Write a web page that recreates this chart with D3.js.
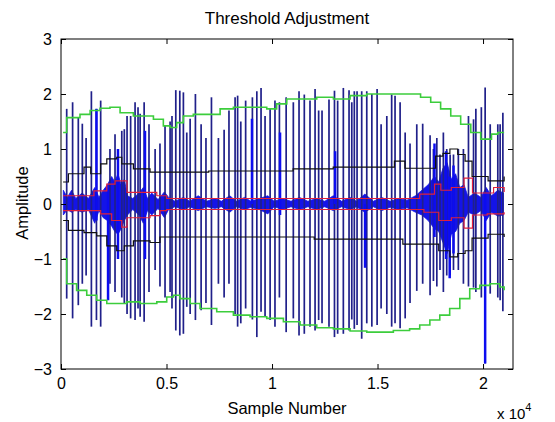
<!DOCTYPE html>
<html>
<head>
<meta charset="utf-8">
<script src="https://cdn.jsdelivr.net/npm/d3@7"></script>
<style>
  body { margin: 0; background: #fff; }
  text { font-family: "Liberation Sans", Arial, sans-serif; fill: #000; }
</style>
</head>
<body>
<script>
// spikes of the signal (sample number, top, bottom)
const spikeX = [270, 550, 820, 1010, 1190, 1440, 1680, 1880, 2320, 2560, 2880, 3000, 3130, 3300, 3510, 3650, 3750, 3940, 4170, 4460,
  4690, 4930, 5170, 5260, 5440, 5630, 5800, 5960, 6120, 6370, 6640, 6870, 7130, 7460, 7730, 7960, 8250, 8370, 8520, 8750,
  9070, 9280, 9480, 9670, 9910, 10140, 10350, 10670, 11010, 11280, 11530, 11800, 12040, 12210, 12370, 12700, 12960, 13110, 13380, 13650,
  13780, 13900, 14030, 14250, 14490, 14730, 14980, 15170, 15440, 15670, 15830, 16070, 16310, 16540, 16860, 17140, 17490, 17650, 17810, 17960,
  18120, 18280, 18440, 18600, 18830, 19070, 19310, 19550, 19660, 19920, 20100, 20340, 20700, 20810, 20940];
const spikeHi = [1.73, 1.85, 1.57, 1.46, 1.2, 2.05, 1.73, 1.88, 1.0, 1.27, 1.33, 1.36, 1.6, 1.6, 1.85, 1.76, 1.64, 1.85, 1.45, 1.0,
  1.1, 1.42, 1.5, 1.6, 2.07, 2.06, 2.03, 1.3, 1.55, 2.0, 1.45, 1.2, 1.94, 1.2, 1.35, 1.7, 1.94, 1.97, 1.5, 1.88,
  1.94, 2.05, 2.11, 1.6, 1.73, 1.88, 1.85, 1.94, 1.85, 2.05, 1.99, 1.88, 2.09, 1.7, 1.7, 1.9, 2.06, 1.88, 2.11, 2.07,
  1.85, 2.05, 2.05, 2.05, 2.05, 2.0, 2.09, 1.45, 1.6, 1.99, 1.97, 1.85, 1.3, 1.1, 1.45, 1.46, 1.25, 1.0, 1.2, 0.9,
  1.3, 1.0, 0.9, 0.9, 1.0, 1.0, 1.6, 1.54, 1.73, 1.76, 2.12, 1.45, 1.45, 1.45, 1.66];
const spikeLo = [-1.72, -2.08, -1.84, -1.45, -1.3, -2.23, -2.11, -2.23, -1.45, -1.6, -1.7, -1.8, -2.0, -2.08, -2.11, -1.9, -2.05, -2.14, -1.6, -1.2,
  -1.5, -1.7, -1.6, -1.9, -2.3, -2.39, -2.36, -1.87, -2.0, -2.11, -1.93, -1.8, -2.2, -1.45, -1.7, -1.45, -2.0, -2.23, -2.17, -1.9,
  -2.1, -2.42, -1.96, -2.05, -2.11, -2.23, -1.7, -2.33, -2.08, -2.39, -2.36, -2.23, -2.3, -2.11, -2.17, -2.23, -2.42, -2.36, -2.36, -2.3,
  -2.1, -2.27, -2.2, -2.45, -2.17, -2.23, -2.2, -1.9, -2.0, -2.23, -2.17, -2.26, -2.08, -1.8, -1.58, -1.45, -1.66, -1.4, -1.5, -1.2,
  -1.6, -1.3, -1.3, -1.2, -1.2, -1.45, -1.5, -1.52, -1.6, -1.7, -2.9, -1.63, -1.7, -1.75, -1.95];

// thick bright bursts of the signal
const burstX = [1680, 2230, 2700, 3980, 9050, 10380, 12990, 14410, 17700, 18250, 18420, 18600, 20100];
const burstHi = [1.73, 0.3, 1.0, 1.33, 1.55, 1.3, 0.96, 0, 1.1, 0.96, 0.5, 0.7, 0.2];
const burstLo = [-0.3, -1.75, -1.0, -1.0, 0, -0.2, 0, -1.16, -0.6, -1.0, -1.35, -0.9, -2.9];

// dense noise band around zero
const bandX = [110, 300, 500, 700, 1000, 1300, 1600, 1800, 2000, 2200, 2400, 2550, 2700, 2850, 3000, 3150, 3400, 3700, 3900, 4100,
  4300, 4600, 4900, 5100, 5400, 5800, 6100, 6500, 6900, 7300, 7600, 8000, 8300, 8700, 9000, 9400, 9800, 10100, 10500, 10900,
  11300, 11700, 12100, 12500, 12900, 13300, 13700, 14000, 14400, 14800, 15200, 15600, 16000, 16400, 16800, 17100, 17400, 17700, 17900, 18100,
  18300, 18500, 18700, 18900, 19100, 19300, 19600, 19900, 20150, 20400, 20700, 20970];
const bandHi = [0.25, 0.12, 0.25, 0.1, 0.2, 0.1, 0.3, 0.12, 0.25, 0.35, 0.5, 0.4, 0.55, 0.35, 0.45, 0.15, 0.1, 0.2, 0.3, 0.1,
  0.2, 0.08, 0.22, 0.12, 0.05, 0.12, 0.05, 0.15, 0.05, 0.1, 0.05, 0.15, 0.05, 0.12, 0.05, 0.1, 0.15, 0.05, 0.1, 0.05,
  0.12, 0.05, 0.1, 0.05, 0.15, 0.05, 0.12, 0.05, 0.18, 0.05, 0.12, 0.05, 0.1, 0.07, 0.15, 0.25, 0.35, 0.5, 0.4, 0.65,
  0.75, 0.45, 0.55, 0.3, 0.35, 0.12, 0.2, 0.12, 0.3, 0.15, 0.25, 0.2];
const bandLo = [-0.2, -0.1, -0.15, -0.1, -0.15, -0.1, -0.35, -0.12, -0.25, -0.3, -0.4, -0.5, -0.55, -0.45, -0.3, -0.2, -0.1, -0.2, -0.35, -0.12,
  -0.2, -0.08, -0.25, -0.1, -0.05, -0.1, -0.05, -0.12, -0.05, -0.08, -0.05, -0.15, -0.05, -0.1, -0.06, -0.1, -0.18, -0.05, -0.1, -0.05,
  -0.1, -0.05, -0.1, -0.05, -0.12, -0.05, -0.1, -0.05, -0.15, -0.05, -0.12, -0.06, -0.1, -0.07, -0.15, -0.2, -0.3, -0.45, -0.5, -0.7,
  -0.9, -0.55, -0.5, -0.35, -0.3, -0.15, -0.2, -0.12, -0.3, -0.15, -0.22, -0.2];

// black thresholds
const blackUpX = [100, 350, 1090, 1410, 1880, 2170, 2640, 2880, 3430, 4220, 5010, 7000, 9000, 11000, 12900, 15000, 15800, 16300, 17500, 17750,
  18100, 18430, 18800, 19150, 19480, 20240, 21000];
const blackUpY = [0.4, 0.55, 0.67, 0.55, 0.73, 0.82, 0.85, 0.73, 0.64, 0.58, 0.58, 0.6, 0.6, 0.64, 0.67, 0.67, 0.78, 0.65, 0.65, 0.87,
  0.92, 1.0, 0.9, 0.78, 0.5, 0.42, 0.5];
const blackLoX = [100, 350, 1090, 1690, 2170, 2640, 3000, 3430, 4220, 4690, 5010, 9000, 12000, 15500, 16200, 17000, 17900, 18430, 18800, 19150,
  19480, 20240, 21000];
const blackLoY = [-0.3, -0.48, -0.52, -0.58, -0.76, -0.85, -0.76, -0.67, -0.7, -0.6, -0.6, -0.6, -0.64, -0.64, -0.73, -0.73, -0.85, -0.96, -0.9, -0.85,
  -0.62, -0.55, -0.6];

// red thresholds
const redUpX = [100, 1090, 1560, 2170, 2560, 3130, 4060, 4540, 5010, 16500, 17000, 17700, 18000, 18500, 19100, 19500, 20000, 20500, 21000];
const redUpY = [0.15, 0.15, 0.24, 0.36, 0.42, 0.21, 0.21, 0.15, 0.1, 0.1, 0.18, 0.36, 0.25, 0.3, 0.47, 0.2, 0.2, 0.3, 0.22];
const redLoX = [100, 1090, 1880, 2400, 2880, 3130, 4220, 4690, 5010, 16500, 17200, 17900, 18500, 19100, 19500, 20200, 21000];
const redLoY = [-0.12, -0.12, -0.18, -0.3, -0.42, -0.25, -0.21, -0.12, -0.1, -0.1, -0.15, -0.3, -0.25, -0.44, -0.2, -0.18, -0.15];

// green thresholds
const greenUpX = [100, 269, 900, 1380, 1850, 2320, 2800, 3430, 4060, 4380, 4850, 5170, 5480, 5800, 6270, 7060, 7540, 8170, 9120, 9750,
  10220, 10700, 12120, 12910, 13700, 14490, 16070, 17040, 17520, 17990, 18470, 18940, 19420, 19890, 20400, 20700, 21000];
const greenUpY = [1.3, 1.57, 1.63, 1.7, 1.74, 1.76, 1.66, 1.6, 1.6, 1.54, 1.42, 1.39, 1.48, 1.6, 1.63, 1.63, 1.73, 1.76, 1.76, 1.73,
  1.82, 1.91, 1.94, 1.91, 1.97, 2.0, 2.0, 1.94, 1.85, 1.73, 1.6, 1.45, 1.3, 1.18, 1.27, 1.3, 1.3];
const greenLoX = [100, 269, 740, 1220, 1690, 2170, 2640, 3110, 3750, 4540, 5010, 5330, 5640, 6120, 6590, 7380, 8170, 8960, 9750, 10540,
  11330, 12120, 12910, 13700, 14490, 15280, 15750, 16520, 17000, 17480, 17950, 18420, 18900, 19370, 19850, 20320, 20790, 21000];
const greenLoY = [-1.0, -1.45, -1.57, -1.66, -1.75, -1.81, -1.81, -1.78, -1.81, -1.78, -1.69, -1.66, -1.72, -1.81, -1.9, -1.96, -2.02, -2.05, -2.08, -2.14,
  -2.2, -2.25, -2.27, -2.31, -2.33, -2.33, -2.3, -2.27, -2.2, -2.11, -2.02, -1.9, -1.72, -1.54, -1.48, -1.45, -1.51, -1.57];

const xTicks = [0, 5000, 10000, 15000, 20000];
const yTicks = [-3, -2, -1, 0, 1, 2, 3];

//svg size and margins
const svgWidth = 555, svgHeight = 422;
const margin = {top: 39, right: 42, bottom: 53, left: 61};
const width = svgWidth - margin.left - margin.right;
const height = svgHeight - margin.top - margin.bottom;

const svg = d3.select("body").append("svg")
  .attr("width", svgWidth)
  .attr("height", svgHeight);

const chart = svg.append("g")
  .attr("transform", `translate(${margin.left},${margin.top})`);

const x = d3.scaleLinear().domain([0, 21420]).range([0, width]);
const y = d3.scaleLinear().domain([-3, 3]).range([height, 0]);

chart.append("clipPath").attr("id", "clip")
  .append("rect").attr("width", width).attr("height", height);
const plot = chart.append("g").attr("clip-path", "url(#clip)");

//noise band
const band = bandX.map((d, i) => ({x: d, hi: bandHi[i], lo: bandLo[i]}));
plot.append("path")
  .datum(band)
  .attr("fill", "#1414e8")
  .attr("stroke", "#1414e8")
  .attr("stroke-width", 0.8)
  .attr("d", d3.area().x(d => x(d.x)).y0(d => y(d.lo)).y1(d => y(d.hi)));

//spikes
plot.append("g").selectAll("line")
  .data(spikeX.map((d, i) => ({x: d, hi: spikeHi[i], lo: spikeLo[i]})))
  .enter().append("line")
  .attr("x1", d => x(d.x)).attr("x2", d => x(d.x))
  .attr("y1", d => y(d.hi)).attr("y2", d => y(d.lo))
  .attr("stroke", "#20208a")
  .attr("stroke-width", 1.7);

//thick bursts
plot.append("g").selectAll("line")
  .data(burstX.map((d, i) => ({x: d, hi: burstHi[i], lo: burstLo[i]})))
  .enter().append("line")
  .attr("x1", d => x(d.x)).attr("x2", d => x(d.x))
  .attr("y1", d => y(d.hi)).attr("y2", d => y(d.lo))
  .attr("stroke", "#0c0cf0")
  .attr("stroke-width", 2.5);

function stepLine(xs, ys, color, w) {
  plot.append("path")
    .datum(xs.map((d, i) => [d, ys[i]]))
    .attr("fill", "none")
    .attr("stroke", color)
    .attr("stroke-width", w)
    .attr("d", d3.line().x(d => x(d[0])).y(d => y(d[1])).curve(d3.curveStepAfter));
}

stepLine(blackUpX, blackUpY, "#111", 1.2);
stepLine(blackLoX, blackLoY, "#111", 1.2);
stepLine(redUpX, redUpY, "#e0203c", 1.2);
stepLine(redLoX, redLoY, "#e0203c", 1.2);
stepLine(greenUpX, greenUpY, "#3ccd3c", 1.6);
stepLine(greenLoX, greenLoY, "#3ccd3c", 1.6);

//axes (matlab style, ticks inside, box)
chart.append("rect")
  .attr("width", width).attr("height", height)
  .attr("fill", "none").attr("stroke", "#000").attr("stroke-width", 1);

chart.append("g").attr("transform", `translate(0,${height})`)
  .call(d3.axisBottom(x).tickValues(xTicks).tickSize(-5).tickPadding(9).tickFormat(d => d / 1e4))
  .call(g => g.select(".domain").remove());
chart.append("g")
  .call(d3.axisTop(x).tickValues(xTicks).tickSize(-5).tickFormat(""))
  .call(g => g.select(".domain").remove());
chart.append("g")
  .call(d3.axisLeft(y).tickValues(yTicks).tickSize(-5).tickPadding(9).tickFormat(d3.format("d")))
  .call(g => g.select(".domain").remove());
chart.append("g").attr("transform", `translate(${width},0)`)
  .call(d3.axisRight(y).tickValues(yTicks).tickSize(-5).tickFormat(""))
  .call(g => g.select(".domain").remove());

chart.selectAll(".tick text")
  .style("font-family", "'Liberation Sans', Arial, sans-serif")
  .style("font-size", "16px")
  .attr("fill", "#000");

//labels
svg.append("text")
  .attr("x", 287).attr("y", 24)
  .attr("text-anchor", "middle").style("font-size", "17px")
  .text("Threshold Adjustment");

svg.append("text")
  .attr("x", 287).attr("y", 414)
  .attr("text-anchor", "middle").style("font-size", "16.5px")
  .text("Sample Number");

svg.append("text")
  .attr("transform", "translate(28,203) rotate(-90)")
  .attr("text-anchor", "middle").style("font-size", "16.5px")
  .text("Amplitude");

const mult = svg.append("text")
  .attr("x", 497).attr("y", 419).style("font-size", "15px");
mult.append("tspan").text("x 10");
mult.append("tspan").attr("dy", -8).style("font-size", "11px").text("4");
</script>
</body>
</html>
